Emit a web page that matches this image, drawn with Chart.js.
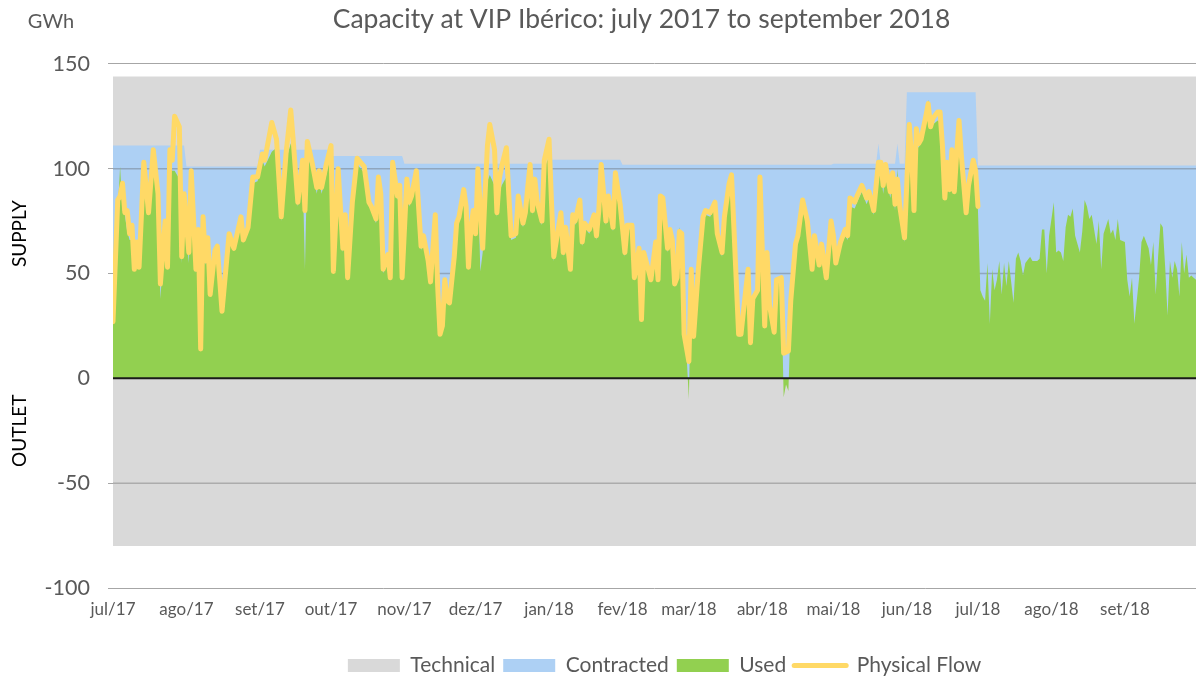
<!DOCTYPE html>
<html>
<head>
<meta charset="utf-8">
<script src="https://cdn.jsdelivr.net/npm/chart.js@4.4.1/dist/chart.umd.min.js"></script>
<style>
  body { margin: 0; background: #fff; }
  canvas { display: block; }
</style>
</head>
<body>
<canvas id="myChart" width="1196" height="679"></canvas>
<script>
// days counted from 1 jul 2017
const monthLabels = ['jul/17','ago/17','set/17','out/17','nov/17','dez/17','jan/18','fev/18','mar/18','abr/18','mai/18','jun/18','jul/18','ago/18','set/18']
const monthStarts = [0,31,62,92,123,153,184,215,243,274,304,335,365,396,427]
const lastDay = 457

const technicalSupply = 144
const technicalOutlet = -80

const contracted = [[0,111],[30,111],[31,101],[61,101],[62,109],[91,109],[92,106],[122,106],[123,102.3],[183,102.3],[184,104.2],[214,104.2],[215,101.8],[303,101.8],[304,102.3],[322,102.3],[323,112],[324,102.3],[330,102.3],[331,112],[332,102.3],[334,102.3],[335,136.4],[364,136.4],[365,101.5],[457,101.5]]

const used = [
[0,30],[2,80],[3,101],[4,80],[5,78],[6,70],[7,66],[8,66],[9,52],[10,56],[11,52],[13,100],[15,78],[17,105],[19,80],[20,38],[22,72],[23,53],[24,100],[25,99],[26,99],[28,95],[29,55],[30,82],
[32,55],[33,92],[35,50],[36,68],[37,15],[38,72],[39,54],[40,64],[41,40],[43,60],[44,62],[46,33],[49,68],[51,61],[54,76],[55,65],[57,70],[59,93],[61,94],
[63,104],[64,101],[67,108],[69,110],[71,75],[73,104],[75,112],[76,110],[78,82],[80,100],[81,52],[82,106],[84,100],[86,88],[87,96],[88,88],[90,97],
[92,108],[93,50],[95,98],[97,60],[98,75],[99,47],[101,82],[103,102],[106,98],[108,82],[109,80],[111,74],[112,94],[113,86],[114,50],[116,57],[117,47],[118,100],[120,85],[121,90],[122,47],
[124,93],[125,82],[126,85],[128,96],[130,61],[131,66],[133,55],[134,45],[136,76],[137,43],[138,25],[139,28],[140,45],[141,36],[142,35],[144,56],[145,72],[146,75],[148,88],[149,80],[150,52],[151,69],[152,78],
[153,68],[154,95],[155,51],[156,60],[157,85],[158,94],[159,97],[161,92],[162,77],[163,88],[164,92],[166,96],[167,85],[168,66],[170,67],[171,84],[173,72],[174,77],[175,88],[176,98],[177,78],[178,92],[179,82],[181,73],[182,100],
[184,106],[185,82],[186,56],[189,76],[190,58],[191,70],[193,51],[194,76],[195,73],[197,82],[198,63],[199,72],[201,69],[203,76],[204,66],[205,78],[206,98],[208,73],[209,84],[211,70],[212,95],[214,81],
[216,58],[217,71],[219,71],[220,47],[222,60],[223,28],[224,58],[227,46],[229,63],[230,46],[231,84],[232,84],[234,60],[235,69],[236,64],[237,44],[238,47],[239,72],[240,67],[241,20],[242,12],
[243,-10],[244,48],[245,19],[247,50],[249,75],[250,78],[252,77],[254,82],[255,67],[257,58],[258,75],[260,90],[261,94],[262,70],[264,20],[265,20],[267,41],[268,50],[269,16],[270,37],[272,41],[273,92],
[275,24],[276,58],[277,34],[279,21],[280,46],[282,46],[283,-9],[284,-3],[285,-6],[286,30],[288,62],[289,66],[291,82],[293,73],[295,51],[296,66],[298,53],[299,62],[301,47],[303,73],
[304,66],[305,54],[307,63],[309,68],[310,66],[311,82],[313,81],[314,84],[316,89],[318,83],[319,86],[321,78],[323,100],[324,100],[325,88],[326,98],[328,86],[329,94],[330,80],[331,100],[332,80],[334,65],
[336,112],[337,110],[338,79],[339,112],[340,110],[341,113],[343,122],[344,133],[345,122],[346,121],[348,123],[349,122],[350,108],[351,88],[352,100],[353,88],[354,105],[355,88],[356,104],[357,118],[358,103],[360,78],[361,89],[363,100],[364,96],[365,80],
[366,42],[367,39],[368,37],[369,55],[370,26],[371,52],[372,42],[373,47],[374,56],[375,40],[376,55],[377,44],[378,56],[380,36],[381,57],[382,60],[383,56],[384,49],[385,55],[387,58],[388,56],[390,56],[391,57],[392,71],[393,71],[394,50],[395,68],
[397,84],[398,60],[399,61],[400,60],[401,56],[402,72],[403,78],[404,77],[405,81],[406,68],[408,60],[409,70],[410,85],[411,82],[412,76],[413,78],[415,64],[416,75],[417,52],[418,69],[420,76],[421,69],[422,71],[423,66],[424,76],[425,66],
[427,65],[428,47],[429,39],[430,48],[431,26],[433,48],[434,65],[435,68],[437,62],[438,54],[439,65],[440,40],[441,58],[442,74],[443,72],[444,53],[445,30],[446,56],[447,48],[448,56],[449,52],[450,39],[451,65],[452,50],[453,59],[454,48],[455,49],[456,48],[457,47]
]

const physicalFlow = [
[0,27],[2,85],[3,87],[4,93],[5,79],[6,80],[7,69],[8,73],[9,52],[10,65],[11,53],[13,103],[15,79],[17,109],[19,88],[20,45],[22,75],[23,53],[24,109],[25,104],[26,125],[28,120],[29,58],[30,88],
[32,60],[33,99],[35,52],[36,71],[37,14],[38,77],[39,56],[40,67],[41,40],[43,61],[44,63],[46,32],[49,69],[51,62],[54,77],[55,66],[57,72],[59,96],[61,96],
[63,107],[64,104],[67,122],[69,114],[71,77],[73,107],[75,128],[76,114],[78,84],[80,104],[81,80],[82,113],[84,103],[86,91],[87,99],[88,91],[90,102],
[92,111],[93,51],[95,100],[97,62],[98,78],[99,48],[101,84],[103,105],[106,101],[108,84],[109,82],[111,76],[112,96],[113,88],[114,52],[116,59],[117,48],[118,103],[120,87],[121,92],[122,48],
[124,95],[125,84],[126,87],[128,99],[130,63],[131,68],[133,56],[134,46],[136,78],[137,44],[138,21],[139,25],[140,47],[141,37],[142,36],[144,58],[145,74],[146,77],[148,90],[149,82],[150,53],[151,71],[152,80],
[153,69],[154,100],[156,62],[157,88],[158,111],[159,121],[161,109],[162,79],[163,95],[164,101],[166,110],[167,88],[168,68],[170,69],[171,87],[173,74],[174,79],[175,91],[176,102],[177,80],[178,95],[179,84],[181,75],[182,104],
[184,114],[185,85],[186,58],[189,79],[190,60],[191,72],[193,52],[194,78],[195,75],[197,85],[198,65],[199,74],[201,71],[203,78],[204,68],[205,80],[206,102],[208,75],[209,87],[211,72],[212,98],[214,83],
[216,60],[217,73],[219,73],[220,48],[222,62],[223,28],[224,60],[227,47],[229,65],[230,47],[231,87],[232,86],[234,62],[235,71],[236,66],[237,45],[238,48],[239,70],[240,69],[241,21],
[243,8],[244,52],[245,20],[247,52],[249,77],[250,80],[252,79],[254,84],[255,69],[257,60],[258,77],[260,93],[261,97],[262,72],[264,21],[265,21],[267,42],[268,52],[269,17],[270,38],[272,42],[273,96],
[275,25],[276,60],[277,35],[279,22],[280,47],[282,48],[283,12],[285,13],[286,37],[288,64],[289,68],[291,85],[293,75],[295,52],[296,68],[298,54],[299,64],[301,48],[303,75],
[304,68],[305,55],[307,65],[309,71],[310,68],[311,86],[313,84],[314,87],[316,92],[318,86],[319,89],[321,80],[323,103],[324,103],[325,92],[326,102],[328,89],[329,98],[330,83],[331,95],[332,82],[334,67],
[336,121],[337,106],[338,80],[339,119],[340,112],[341,114],[343,125],[344,131],[345,120],[346,124],[348,127],[349,127],[350,111],[351,86],[352,103],[353,90],[354,109],[355,89],[356,107],[357,123],[358,106],[360,79],[361,92],[363,104],[364,99],[365,82]
]

const textColor = '#595959'
const fontFamily = 'Lato'
const toPoints = arr => arr.map(p => ({x: p[0], y: p[1]}))

// gridlines show over gray/blue but under green, zero line on top
const overlay = {
  id: 'overlay',
  afterLayout(chart) {
    // nudge title and legend to where the original sits
    chart.titleBlock.left -= 13
    chart.titleBlock.right -= 13
    chart.legend.left += 10
    chart.legend.right += 10
  },
  afterDatasetDraw(chart, args) {
    const {ctx, chartArea, scales} = chart
    const y = scales.y
    if (args.index === 1) {
      ctx.save()
      ctx.strokeStyle = 'rgba(89,89,89,0.35)'
      ctx.lineWidth = 1.5
      ;[100, 50, -50].forEach(v => {
        const py = y.getPixelForValue(v)
        ctx.beginPath()
        ctx.moveTo(chartArea.left, py)
        ctx.lineTo(chartArea.right, py)
        ctx.stroke()
      })
      ctx.restore()
    }
    if (args.index === 2) {
      const py = y.getPixelForValue(0)
      ctx.save()
      ctx.strokeStyle = '#1a1a1a'
      ctx.lineWidth = 2
      ctx.beginPath()
      ctx.moveTo(chartArea.left, py)
      ctx.lineTo(chartArea.right, py)
      ctx.stroke()
      ctx.restore()
    }
  },
  afterDraw(chart) {
    const {ctx, scales} = chart
    const y = scales.y
    ctx.save()
    ctx.fillStyle = textColor
    ctx.font = '20px ' + fontFamily
    ctx.textAlign = 'center'
    ctx.textBaseline = 'middle'
    ctx.fillText('GWh', 51, 22)
    ctx.fillStyle = '#000'
    ctx.font = '19px ' + fontFamily
    const side = (text, value) => {
      ctx.save()
      ctx.translate(20, y.getPixelForValue(value))
      ctx.rotate(-Math.PI / 2)
      ctx.fillText(text, 0, 0)
      ctx.restore()
    }
    side('SUPPLY', 69)
    side('OUTLET', -25)
    ctx.restore()
  }
}

const data = {
  datasets: [{
    label: 'Technical',
    data: [{x: 0, y: technicalSupply}, {x: lastDay, y: technicalSupply}],
    fill: {value: technicalOutlet},
    backgroundColor: '#D9D9D9',
    borderColor: 'rgba(0,0,0,0)',
    borderWidth: 0,
    pointRadius: 0,
    order: 4
  }, {
    label: 'Contracted',
    data: toPoints(contracted),
    fill: 'origin',
    backgroundColor: '#ADD0F4',
    borderColor: 'rgba(0,0,0,0)',
    borderWidth: 0,
    pointRadius: 0,
    order: 3
  }, {
    label: 'Used',
    data: toPoints(used),
    fill: 'origin',
    backgroundColor: '#92D050',
    borderColor: 'rgba(0,0,0,0)',
    borderWidth: 0,
    pointRadius: 0,
    order: 2
  }, {
    label: 'Physical Flow',
    data: toPoints(physicalFlow),
    fill: false,
    borderColor: '#FFD966',
    backgroundColor: '#FFD966',
    borderWidth: 5,
    borderJoinStyle: 'round',
    borderCapStyle: 'round',
    pointRadius: 0,
    order: 1
  }]
}

const config = {
  type: 'line',
  data: data,
  plugins: [overlay],
  options: {
    responsive: false,
    animation: false,
    devicePixelRatio: 1,
    layout: {padding: {top: 0, left: 0, right: 0, bottom: -7}},
    scales: {
      x: {
        type: 'linear',
        min: 0,
        max: lastDay,
        grid: {display: false, drawTicks: false},
        border: {display: false},
        afterBuildTicks: axis => { axis.ticks = monthStarts.map(v => ({value: v})) },
        afterFit: scale => { scale.height = 59 },
        ticks: {
          autoSkip: false,
          maxRotation: 0,
          padding: 11,
          color: textColor,
          font: {family: fontFamily, size: 17},
          callback: v => monthLabels[monthStarts.indexOf(v)]
        }
      },
      y: {
        min: -100,
        max: 150,
        afterFit: scale => { scale.width = 113 },
        border: {display: false},
        grid: {
          color: c => c.tick && c.tick.value === 0 ? 'rgba(0,0,0,0)' : '#a6a6a6',
          tickLength: 5
        },
        ticks: {
          stepSize: 50,
          padding: 18,
          color: textColor,
          font: {family: fontFamily, size: 21.5}
        }
      }
    },
    plugins: {
      title: {
        display: true,
        text: 'Capacity at VIP Ibérico: july 2017 to september 2018',
        fullSize: false,
        color: textColor,
        font: {family: fontFamily, size: 26.5, weight: 'normal'},
        padding: {top: 4, bottom: 28}
      },
      legend: {
        position: 'bottom',
        fullSize: false,
        labels: {
          usePointStyle: true,
          pointStyleWidth: 52,
          boxHeight: 13,
          padding: 8,
          color: textColor,
          font: {family: fontFamily, size: 21},
          generateLabels: chart => chart.data.datasets.map((ds, i) => ({
            text: ds.label,
            fillStyle: ds.backgroundColor,
            strokeStyle: ds.backgroundColor,
            lineWidth: i === 3 ? 5 : 0,
            lineCap: 'round',
            pointStyle: i === 3 ? 'line' : 'rect',
            fontColor: textColor,
            hidden: false,
            datasetIndex: i
          }))
        }
      },
      tooltip: {enabled: false}
    }
  }
}

const myChart = new Chart(document.getElementById('myChart'), config)
</script>
</body>
</html>
